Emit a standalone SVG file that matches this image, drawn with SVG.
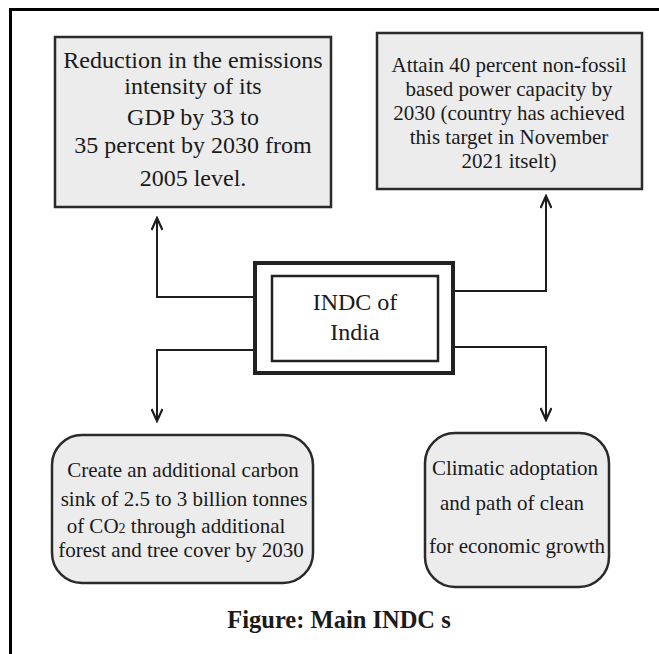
<svg xmlns="http://www.w3.org/2000/svg" width="659" height="654" viewBox="0 0 659 654">
<style>
.t{font-family:"Liberation Serif","Times New Roman",serif;fill:#1a1a1a;text-anchor:middle}
.box{fill:#ececec;stroke:#2a2a2a;stroke-width:2.5}
.conn{fill:none;stroke:#1e1e1e;stroke-width:2}
.frame{fill:none;stroke:#000;stroke-width:3}
</style>
<defs>
<marker id="arr" viewBox="0 0 16 12" refX="14" refY="6" markerWidth="16" markerHeight="12" markerUnits="userSpaceOnUse" orient="auto">
<path d="M2,0.5 L14,6 L2,11.5" fill="none" stroke="#1e1e1e" stroke-width="2.2"/>
</marker>
</defs>
<rect width="659" height="654" fill="#fff"/>
<path class="frame" d="M10.5,654 V9.5 H659"/>

<g id="connectors">
<path class="conn" d="M255,297 H157 V218" marker-end="url(#arr)"/>
<path class="conn" d="M255,350 H157 V421" marker-end="url(#arr)"/>
<path class="conn" d="M453,291 H546 V196" marker-end="url(#arr)"/>
<path class="conn" d="M453,347 H546 V420" marker-end="url(#arr)"/>
</g>

<g id="node-gdp">
<rect class="box" x="55" y="37" width="276" height="170"/>
<text class="t" font-size="24" x="193" y="68">Reduction in the emissions</text>
<text class="t" font-size="24" x="193" y="94">intensity of its</text>
<text class="t" font-size="24" x="193" y="125">GDP by 33 to</text>
<text class="t" font-size="24" x="193" y="153">35 percent by 2030 from</text>
<text class="t" font-size="24" x="193" y="186">2005 level.</text>
</g>

<g id="node-power">
<rect class="box" x="377" y="33" width="265" height="156"/>
<text class="t" font-size="21" x="509" y="72">Attain 40 percent non-fossil</text>
<text class="t" font-size="21" x="509" y="96">based power capacity by</text>
<text class="t" font-size="21" x="509" y="120">2030 (country has achieved</text>
<text class="t" font-size="21" x="509" y="144">this target in November</text>
<text class="t" font-size="21" x="509" y="168">2021 itselt)</text>
</g>

<g id="node-indc">
<rect x="255" y="263" width="198" height="110" fill="#fff" stroke="#222" stroke-width="4"/>
<rect x="272" y="276" width="166" height="85" fill="#fff" stroke="#222" stroke-width="2.5"/>
<text class="t" font-size="24" x="355" y="310">INDC of</text>
<text class="t" font-size="24" x="355" y="340">India</text>
</g>

<g id="node-carbon">
<rect class="box" x="52" y="435" width="261" height="148" rx="30" ry="30"/>
<text class="t" font-size="21" x="183" y="477">Create an additional carbon</text>
<text class="t" font-size="21" x="184" y="506">sink of 2.5 to 3 billion tonnes</text>
<text class="t" font-size="21" x="176" y="533">of CO<tspan font-size="14">2</tspan> through additional</text>
<text class="t" font-size="21" x="181" y="557">forest and tree cover by 2030</text>
</g>

<g id="node-climate">
<rect class="box" x="425" y="433" width="184" height="154" rx="30" ry="30"/>
<text class="t" font-size="21" x="515" y="475">Climatic adoptation</text>
<text class="t" font-size="21" x="512" y="510">and path of clean</text>
<text class="t" font-size="21" x="517" y="553">for economic growth</text>
</g>

<text class="t" font-size="24.5" font-weight="bold" x="339" y="628">Figure: Main INDC s</text>
</svg>
